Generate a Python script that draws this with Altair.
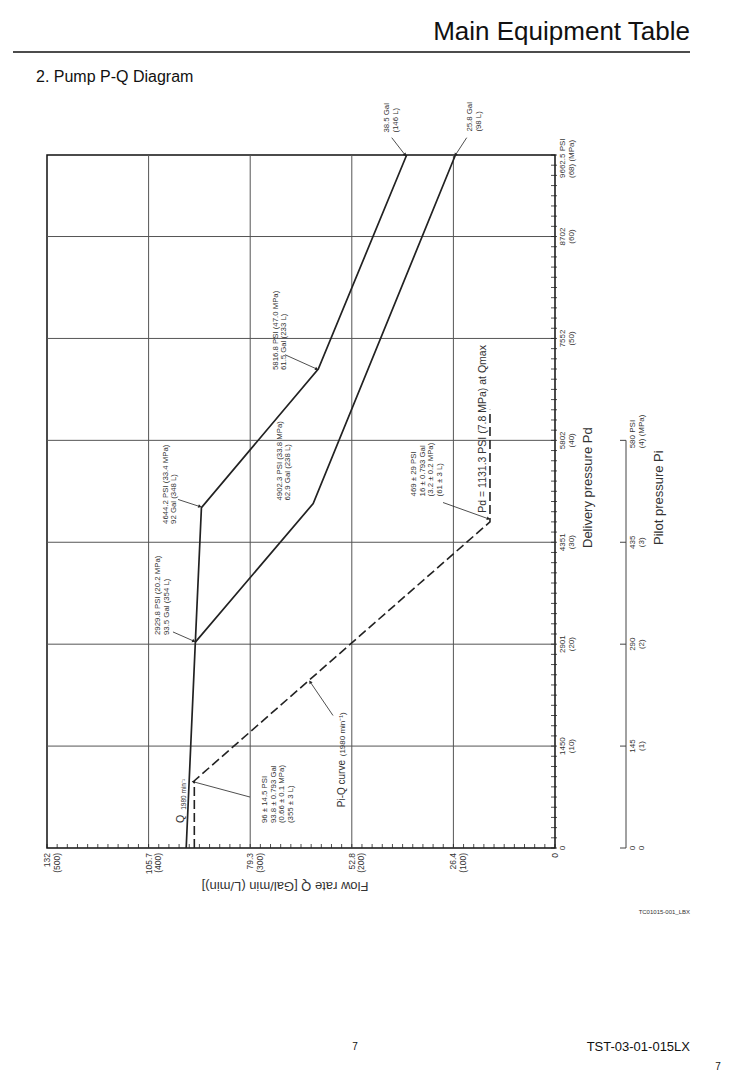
import math
import altair as alt
import pandas as pd

W, H = 508, 693
FONT = "Liberation Sans"
INK = "#222222"
TXT = "#333333"

# ---------------- data ----------------
# Flow rate axis (L/min) with Gal/min labels
q_ticks_lmin = [500, 400, 300, 200, 100, 0]
q_tick_labels = ["132\n(500)", "105.7\n(400)", "79.3\n(300)", "52.8\n(200)", "26.4\n(100)", "0"]
q_grid = [400, 300, 200, 100]
q_minor = list(range(0, 501, 10))

# Delivery pressure axis (MPa) with PSI labels
p_ticks_mpa = [0, 10, 20, 30, 40, 50, 60]
p_tick_labels = ["0", "1450\n(10)", "2901\n(20)", "4351\n(30)", "5802\n(40)", "7552\n(50)", "8702\n(60)"]
p_top = [68]
p_top_label = ["9662.5  PSI\n(68)    (MPa)"]
p_grid = [10, 20, 30, 40, 50, 60]
p_minor = list(range(0, 69, 1))

# Pilot pressure axis (MPa)
PILOT_TO_PD = 10  # 1 MPa pilot is drawn like 10 MPa delivery
pi_ticks_mpa = [0, 1, 2, 3]
pi_tick_labels = ["0\n0", "145\n(1)", "290\n(2)", "435\n(3)"]
pi_top = [4]
pi_top_label = ["580  PSI\n(4)   (MPa)"]

# P-Q curves (Q in L/min, P in MPa)
curve1_q = [363, 354, 348, 233, 146]
curve1_p = [0, 20.2, 33.4, 47.0, 68]
curve2_q = [354, 238, 98]
curve2_p = [20.2, 33.8, 68]

# Pi-Q curve (Q in L/min, Pi in MPa)
piq_q = [355, 355, 64, 64]
piq_pi = [0, 0.66, 3.2, 4.3]

# annotation texts (anchor Q, anchor P)
ann2_q = [160.9, 79.2, 386.3, 378.9, 266.7, 270.7]
ann2_p = [70.2, 70.3, 20.9, 31.8, 34.1, 46.9]
ann2_text = [
    "38.5 Gal\n(146 L)",
    "25.8 Gal\n(98 L)",
    "2929.8 PSI (20.2 MPa)\n93.5 Gal (354 L)",
    "4644.2 PSI (33.4 MPa)\n92 Gal (348 L)",
    "4902.3 PSI (33.8 MPa)\n62.9 Gal (238 L)",
    "5816.8 PSI (47.0 MPa)\n61.5 Gal (233 L)",
]
ann4_q = [126.0, 272.6]
ann4_p = [34.5, 2.45]
ann4_text = [
    "469 ± 29 PSI\n16 ± 0.793 Gal\n(3.2 ± 0.2 MPa)\n(61 ± 3 L)",
    "96 ± 14.5 PSI\n93.8 ± 0.793 Gal\n(0.66 ± 0.1 MPa)\n(355 ± 3 L)",
]
big_q = [70.9, 368.0, 209.6]
big_p = [32.9, 2.45, 4.0]
big_text = ["Pd = 1131.3 PSI (7.8 MPa) at Qmax", "Q", "Pi-Q curve"]
big_size = [10.5, 10.5, 10]
sub_q = [365.6, 209.0]
sub_p = [3.75, 9.0]
sub_text = ["1980 min⁻¹", "(1980 min⁻¹)"]
sub_size = [6.5, 8]

# leader lines (from Q,P to Q2,P2)
lead_q1 = [160.7, 86.9, 376.0, 371.0, 265.7, 110.2, 300.2, 218.5]
lead_p1 = [69.7, 69.7, 21.2, 34.2, 48.4, 33.9, 5.0, 13.0]
lead_q2 = [147.5, 98.0, 355.5, 349.5, 234.5, 65.5, 356.0, 241.0]
lead_p2 = [68.0, 68.0, 20.3, 33.5, 47.0, 32.3, 6.5, 16.3]

# ---------------- helpers ----------------
xscale = alt.Scale(domain=[0, 500], reverse=True, nice=False, zero=False)
yscale = alt.Scale(domain=[0, 68], nice=False, zero=False)


def X(f="Q"):
    return alt.X(f"{f}:Q", scale=xscale, axis=None)


def Y(f="P"):
    return alt.Y(f"{f}:Q", scale=yscale, axis=None)


def page_text(text, x, y, size, align="left", baseline="alphabetic", angle=0, color=TXT):
    return alt.Chart(pd.DataFrame({"t": [text]})).mark_text(
        font=FONT, fontSize=size, align=align, baseline=baseline, angle=angle, color=color
    ).encode(x=alt.value(x), y=alt.value(y), text="t:N")


layers = []

# grid
layers.append(alt.Chart(pd.DataFrame({"Q": q_grid})).mark_rule(color="#555", strokeWidth=1).encode(x=X()))
layers.append(alt.Chart(pd.DataFrame({"P": p_grid})).mark_rule(color="#555", strokeWidth=1).encode(y=Y()))

# minor ticks (inward)
layers.append(alt.Chart(pd.DataFrame({"Q": q_minor})).mark_rule(color=INK, strokeWidth=0.8).encode(
    x=X(), y=alt.value(H - 4), y2=alt.value(H)))
layers.append(alt.Chart(pd.DataFrame({"P": p_minor})).mark_rule(color=INK, strokeWidth=0.8).encode(
    y=Y(), x=alt.value(W - 4), x2=alt.value(W + 2)))

# flow-rate tick labels
layers.append(alt.Chart(pd.DataFrame({"Q": q_ticks_lmin, "t": q_tick_labels})).mark_text(
    font=FONT, fontSize=8.5, lineHeight=9.5, angle=270, align="right", baseline="middle",
    lineBreak="\n", color=TXT).encode(x=X(), y=alt.value(H + 5), text="t:N"))

# delivery pressure tick labels
layers.append(alt.Chart(pd.DataFrame({"P": p_ticks_mpa, "t": p_tick_labels})).mark_text(
    font=FONT, fontSize=8, lineHeight=8.5, angle=270, align="center", baseline="middle",
    lineBreak="\n", color=TXT).encode(y=Y(), x=alt.value(W + 8), text="t:N"))
layers.append(alt.Chart(pd.DataFrame({"P": p_top, "t": p_top_label})).mark_text(
    font=FONT, fontSize=8, lineHeight=8.5, angle=270, align="left", baseline="middle",
    lineBreak="\n", color=TXT, dx=-23).encode(y=Y(), x=alt.value(W + 8), text="t:N"))

# pilot pressure axis
pil = alt.Chart(pd.DataFrame({"Pi": pi_ticks_mpa + pi_top, "t": pi_tick_labels + pi_top_label})).transform_calculate(
    P=f"datum.Pi * {PILOT_TO_PD}")
layers.append(alt.Chart(pd.DataFrame({"Pi0": [0], "Pi1": pi_top})).transform_calculate(
    P=f"datum.Pi0 * {PILOT_TO_PD}", P2=f"datum.Pi1 * {PILOT_TO_PD}").mark_rule(
    color="#444", strokeWidth=1).encode(x=alt.value(W + 71), y=Y(), y2=alt.Y2("P2:Q")))
layers.append(pil.mark_rule(color="#444", strokeWidth=1).encode(
    y=Y(), x=alt.value(W + 65), x2=alt.value(W + 71)))
layers.append(pil.transform_filter(f"datum.Pi < {pi_top[0]}").mark_text(
    font=FONT, fontSize=8, lineHeight=8.5, angle=270, align="center", baseline="middle",
    lineBreak="\n", color=TXT).encode(y=Y(), x=alt.value(W + 78), text="t:N"))
layers.append(pil.transform_filter(f"datum.Pi >= {pi_top[0]}").mark_text(
    font=FONT, fontSize=8, lineHeight=8.5, angle=270, align="left", baseline="middle",
    lineBreak="\n", color=TXT, dx=-8).encode(y=Y(), x=alt.value(W + 78), text="t:N"))

# curves
c1 = pd.DataFrame({"Q": curve1_q, "P": curve1_p, "i": range(len(curve1_q))})
c2 = pd.DataFrame({"Q": curve2_q, "P": curve2_p, "i": range(len(curve2_q))})
layers.append(alt.Chart(c1).mark_line(color=INK, strokeWidth=1.7).encode(x=X(), y=Y(), order="i:Q"))
layers.append(alt.Chart(c2).mark_line(color=INK, strokeWidth=1.7).encode(x=X(), y=Y(), order="i:Q"))

pq = pd.DataFrame({"Q": piq_q, "Pi": piq_pi, "i": range(len(piq_q))})
layers.append(alt.Chart(pq).transform_calculate(P=f"datum.Pi * {PILOT_TO_PD}").mark_line(
    color=INK, strokeWidth=1.6, strokeDash=[9, 4]).encode(x=X(), y=Y(), order="i:Q"))

# leaders + arrowheads
ld = pd.DataFrame({"Q": lead_q1, "P": lead_p1, "Q2": lead_q2, "P2": lead_p2})
ld["ang"] = [
    math.degrees(math.atan2(-(q2 - q1) * W / 500, (p2 - p1) * H / 68)) % 360
    for q1, p1, q2, p2 in zip(lead_q1, lead_p1, lead_q2, lead_p2)
]
layers.append(alt.Chart(ld).mark_rule(color=INK, strokeWidth=0.8).encode(
    x=X(), y=Y(), x2=alt.X2("Q2:Q"), y2=alt.Y2("P2:Q")))
layers.append(alt.Chart(ld).mark_point(shape="triangle-up", filled=True, color=INK, size=14, opacity=1).encode(
    x=X("Q2"), y=Y("P2"), angle=alt.Angle("ang:Q", scale=None)))

# annotations (multi-line blocks centred on their anchor)
layers.append(alt.Chart(pd.DataFrame({"Q": ann2_q, "P": ann2_p, "t": ann2_text})).mark_text(
    font=FONT, fontSize=7.8, lineHeight=8.4, angle=270, align="left", baseline="middle",
    lineBreak="\n", color=TXT, dy=-4.2).encode(x=X(), y=Y(), text="t:N"))
layers.append(alt.Chart(pd.DataFrame({"Q": ann4_q, "P": ann4_p, "t": ann4_text})).mark_text(
    font=FONT, fontSize=7.8, lineHeight=8.4, angle=270, align="left", baseline="middle",
    lineBreak="\n", color=TXT, dy=-12.6).encode(x=X(), y=Y(), text="t:N"))
layers.append(alt.Chart(pd.DataFrame({"Q": big_q, "P": big_p, "t": big_text, "s": big_size})).mark_text(
    font=FONT, angle=270, align="left", baseline="middle", color=TXT).encode(
    x=X(), y=Y(), text="t:N", size=alt.Size("s:Q", scale=None)))
layers.append(alt.Chart(pd.DataFrame({"Q": sub_q, "P": sub_p, "t": sub_text, "s": sub_size})).mark_text(
    font=FONT, angle=270, align="left", baseline="middle", color=TXT).encode(
    x=X(), y=Y(), text="t:N", size=alt.Size("s:Q", scale=None)))

# axis titles
layers.append(page_text("Flow rate Q [Gal/min (L/min)]", 238, 731, 13, align="center", baseline="middle", angle=180))
layers.append(page_text("Delivery pressure Pd", 541, 393, 13, align="left", baseline="middle", angle=270))
layers.append(page_text("Pilot pressure Pi", 612, 390, 13, align="left", baseline="middle", angle=270))

# page decorations
layers.append(page_text("Main Equipment Table", 643, -115, 26, align="right", color="#111"))
layers.append(alt.Chart(pd.DataFrame({"a": [0]})).mark_rule(color="#111", strokeWidth=1.5).encode(
    x=alt.value(-34), x2=alt.value(643), y=alt.value(-103)))
layers.append(page_text("2. Pump P-Q Diagram", -11, -73, 16, color="#111"))
layers.append(page_text("TC01015-001_LBX", 643, 757, 6, align="right", baseline="middle"))
layers.append(page_text("7", 308, 892, 10, align="center", baseline="middle", color="#111"))
layers.append(page_text("TST-03-01-015LX", 643, 892, 13, align="right", baseline="middle", color="#111"))
layers.append(page_text("7", 671, 912, 10, align="center", baseline="middle", color="#111"))

chart = alt.layer(*layers).properties(
    width=W,
    height=H,
    padding={"left": 47, "top": 155, "right": 185, "bottom": 235},
    autosize=alt.AutoSizeParams(type="none"),
    background="white",
).configure_view(stroke="#111", strokeWidth=1.5)

chart.save("out.html", embed_options={"renderer": "svg", "actions": False})
